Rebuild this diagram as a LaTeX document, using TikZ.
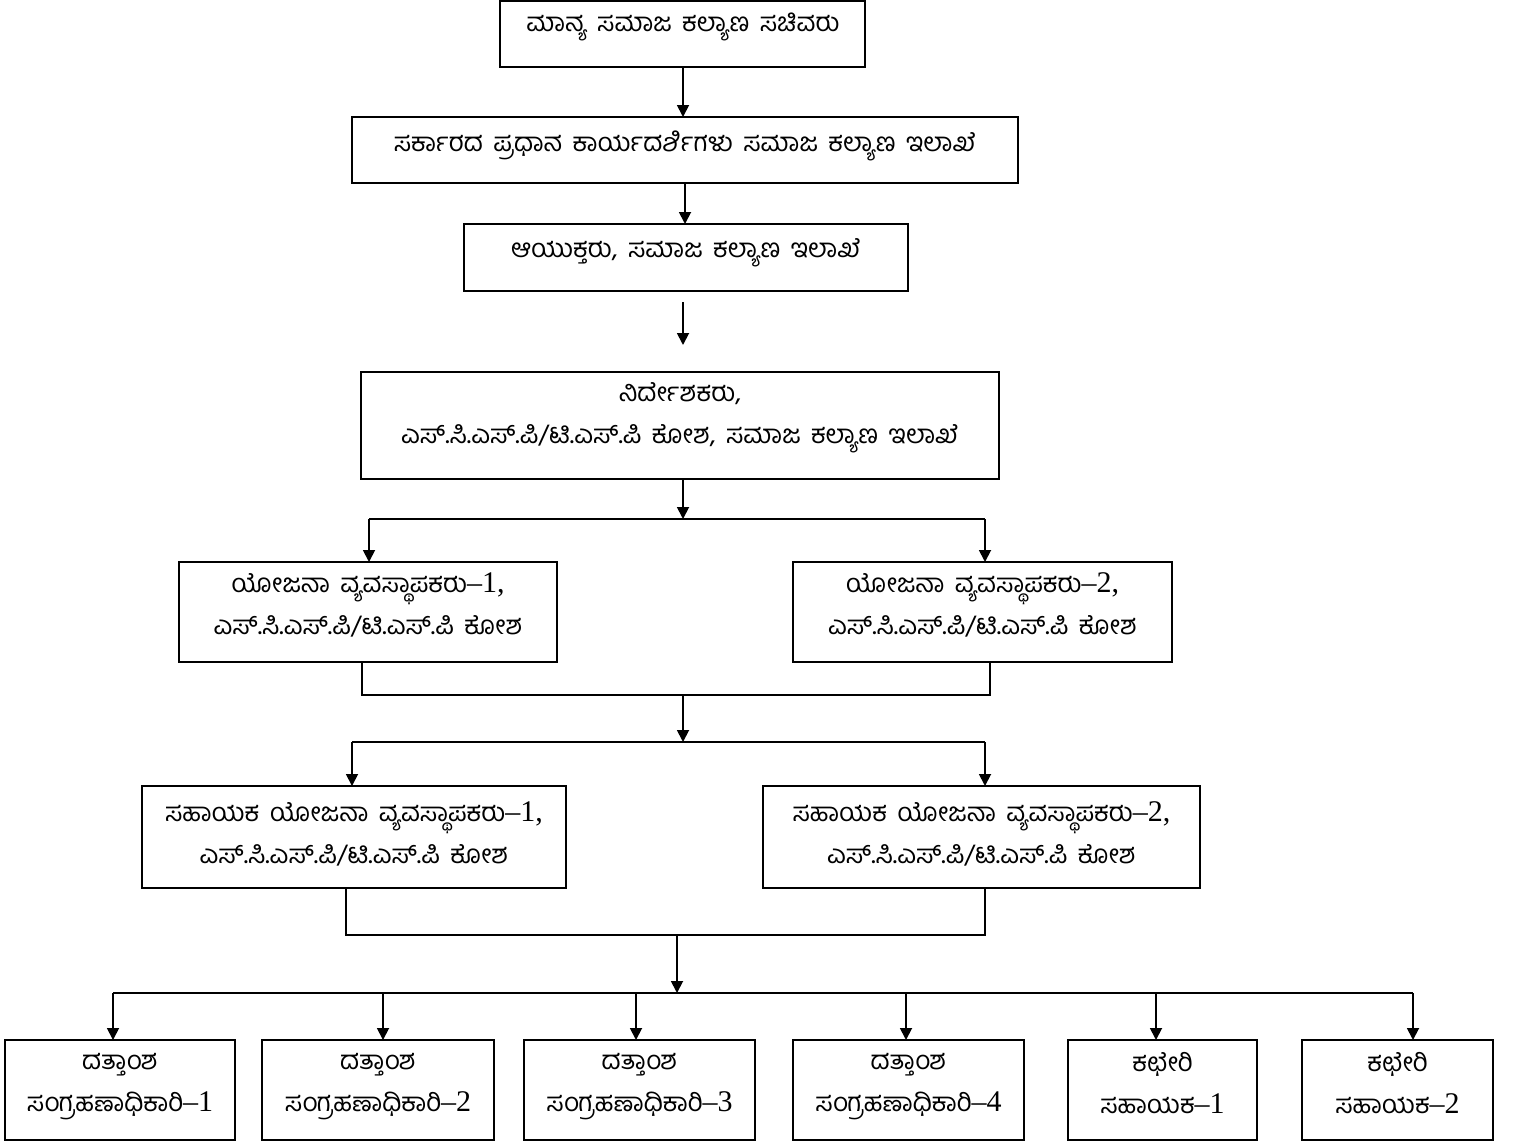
\documentclass[tikz,border=0pt]{standalone}
\usepackage{fontspec}
\usetikzlibrary{arrows.meta}
\newfontfamily\kn[Script=Kannada]{Hind Mysuru}
\newfontfamily\latf{Liberation Serif}
\newcommand{\lat}{\latf\fontsize{15}{21}\selectfont}
\newcommand{\ws}{\hspace{0.4em}}
\begin{document}
\begin{tikzpicture}[x=0.5pt,y=-0.5pt,
  box/.style={draw,line width=0.9pt,inner sep=0pt,outer sep=0pt},
  txt/.style={align=center,inner sep=0pt,font=\kn\fontsize{13}{21}\selectfont},
  conn/.style={line width=0.9pt},
  arr/.style={line width=0.9pt,-{Triangle[length=6pt,width=6pt]}}]
\useasboundingbox (0,0) rectangle (1515,1142);
% boxes
\node[box,minimum width=182.5pt,minimum height=33pt] (b1) at (682.5,34) {};
\node[box,minimum width=333pt,minimum height=33pt] (b2) at (685,150) {};
\node[box,minimum width=222pt,minimum height=33.5pt] (b3) at (686,257.5) {};
\node[box,minimum width=319pt,minimum height=53.5pt] (b4) at (680,425.5) {};
\node[box,minimum width=189pt,minimum height=50pt] (b5) at (368,612) {};
\node[box,minimum width=189.5pt,minimum height=50pt] (b6) at (982.5,612) {};
\node[box,minimum width=212pt,minimum height=51pt] (b7) at (354,837) {};
\node[box,minimum width=218.5pt,minimum height=51pt] (b8) at (981.5,837) {};
\node[box,minimum width=115pt,minimum height=50pt] (c1) at (120,1090) {};
\node[box,minimum width=116pt,minimum height=50pt] (c2) at (378,1090) {};
\node[box,minimum width=115.5pt,minimum height=50pt] (c3) at (639.5,1090) {};
\node[box,minimum width=115.5pt,minimum height=50pt] (c4) at (908.5,1090) {};
\node[box,minimum width=94.5pt,minimum height=50pt] (c5) at (1162.5,1090) {};
\node[box,minimum width=95.5pt,minimum height=50pt] (c6) at (1397.5,1090) {};
% texts
\node[txt] (t1) at (683,27) {ಮಾನ್ಯ\ws ಸಮಾಜ\ws ಕಲ್ಯಾಣ\ws ಸಚಿವರು};
\node[txt] (t2) at (685,146) {ಸರ್ಕಾರದ\ws ಪ್ರಧಾನ\ws ಕಾರ್ಯದರ್ಶಿಗಳು\ws ಸಮಾಜ\ws ಕಲ್ಯಾಣ\ws ಇಲಾಖೆ};
\node[txt] (t3) at (686,253) {ಆಯುಕ್ತರು,\ws ಸಮಾಜ\ws ಕಲ್ಯಾಣ\ws ಇಲಾಖೆ};
\node[txt] (t4) at (680,418) {ನಿರ್ದೇಶಕರು,\\ಎಸ್.ಸಿ.ಎಸ್.ಪಿ/ಟಿ.ಎಸ್.ಪಿ\ws ಕೋಶ,\ws ಸಮಾಜ\ws ಕಲ್ಯಾಣ\ws ಇಲಾಖೆ};
\node[txt] (t5) at (368,605) {ಯೋಜನಾ\ws ವ್ಯವಸ್ಥಾಪಕರು{\lat –1,}\\ಎಸ್.ಸಿ.ಎಸ್.ಪಿ/ಟಿ.ಎಸ್.ಪಿ\ws ಕೋಶ};
\node[txt] (t6) at (982.5,605) {ಯೋಜನಾ\ws ವ್ಯವಸ್ಥಾಪಕರು{\lat –2,}\\ಎಸ್.ಸಿ.ಎಸ್.ಪಿ/ಟಿ.ಎಸ್.ಪಿ\ws ಕೋಶ};
\node[txt] (t7) at (354,834) {ಸಹಾಯಕ\ws ಯೋಜನಾ\ws ವ್ಯವಸ್ಥಾಪಕರು{\lat –1,}\\ಎಸ್.ಸಿ.ಎಸ್.ಪಿ/ಟಿ.ಎಸ್.ಪಿ\ws ಕೋಶ};
\node[txt] (t8) at (981.5,834) {ಸಹಾಯಕ\ws ಯೋಜನಾ\ws ವ್ಯವಸ್ಥಾಪಕರು{\lat –2,}\\ಎಸ್.ಸಿ.ಎಸ್.ಪಿ/ಟಿ.ಎಸ್.ಪಿ\ws ಕೋಶ};
\node[txt] (u1) at (120,1087) {ದತ್ತಾಂಶ\\ಸಂಗ್ರಹಣಾಧಿಕಾರಿ{\lat –1}};
\node[txt] (u2) at (378,1087) {ದತ್ತಾಂಶ\\ಸಂಗ್ರಹಣಾಧಿಕಾರಿ{\lat –2}};
\node[txt] (u3) at (639.5,1087) {ದತ್ತಾಂಶ\\ಸಂಗ್ರಹಣಾಧಿಕಾರಿ{\lat –3}};
\node[txt] (u4) at (908.5,1087) {ದತ್ತಾಂಶ\\ಸಂಗ್ರಹಣಾಧಿಕಾರಿ{\lat –4}};
\node[txt] (u5) at (1162.5,1083) {ಕಛೇರಿ\\ಸಹಾಯಕ{\lat –1}};
\node[txt] (u6) at (1397.5,1083) {ಕಛೇರಿ\\ಸಹಾಯಕ{\lat –2}};
% junction coordinates
\coordinate (j1) at (683,519);
\coordinate (j1l) at (369,519);
\coordinate (j1r) at (985,519);
\coordinate (k1l) at (362,695);
\coordinate (k1r) at (990,695);
\coordinate (k1) at (683,695);
\coordinate (j2) at (683,742);
\coordinate (j2l) at (352,742);
\coordinate (j2r) at (985,742);
\coordinate (k2l) at (346,935);
\coordinate (k2r) at (985,935);
\coordinate (k2) at (677,935);
\coordinate (j3) at (677,993);
\coordinate (j3a) at (113,993);
\coordinate (j3b) at (383,993);
\coordinate (j3c) at (636,993);
\coordinate (j3d) at (906,993);
\coordinate (j3e) at (1156,993);
\coordinate (j3f) at (1413,993);
% connectors
\draw[arr] (b1.south -| 683,0) -- (b2.north -| 683,0);
\draw[arr] (b2.south -| 685,0) -- (b3.north -| 685,0);
\draw[arr,shorten <=5.5pt,shorten >=13.5pt] (b3.south -| 683,0) -- (b4.north -| 683,0);
\draw[arr] (b4.south -| j1) -- (j1);
\draw[conn] (j1l) -- (j1r);
\draw[arr] (j1l) -- (j1l |- b5.north);
\draw[arr] (j1r) -- (j1r |- b6.north);
\draw[conn] (b5.south -| k1l) -- (k1l) -- (k1r) -- (b6.south -| k1r);
\draw[arr] (k1) -- (j2);
\draw[conn] (j2l) -- (j2r);
\draw[arr] (j2l) -- (j2l |- b7.north);
\draw[arr] (j2r) -- (j2r |- b8.north);
\draw[conn] (b7.south -| k2l) -- (k2l) -- (k2r) -- (b8.south -| k2r);
\draw[arr] (k2) -- (j3);
\draw[conn] (j3a) -- (j3f);
\draw[arr] (j3a) -- (j3a |- c1.north);
\draw[arr] (j3b) -- (j3b |- c2.north);
\draw[arr] (j3c) -- (j3c |- c3.north);
\draw[arr] (j3d) -- (j3d |- c4.north);
\draw[arr] (j3e) -- (j3e |- c5.north);
\draw[arr] (j3f) -- (j3f |- c6.north);
\end{tikzpicture}
\end{document}
